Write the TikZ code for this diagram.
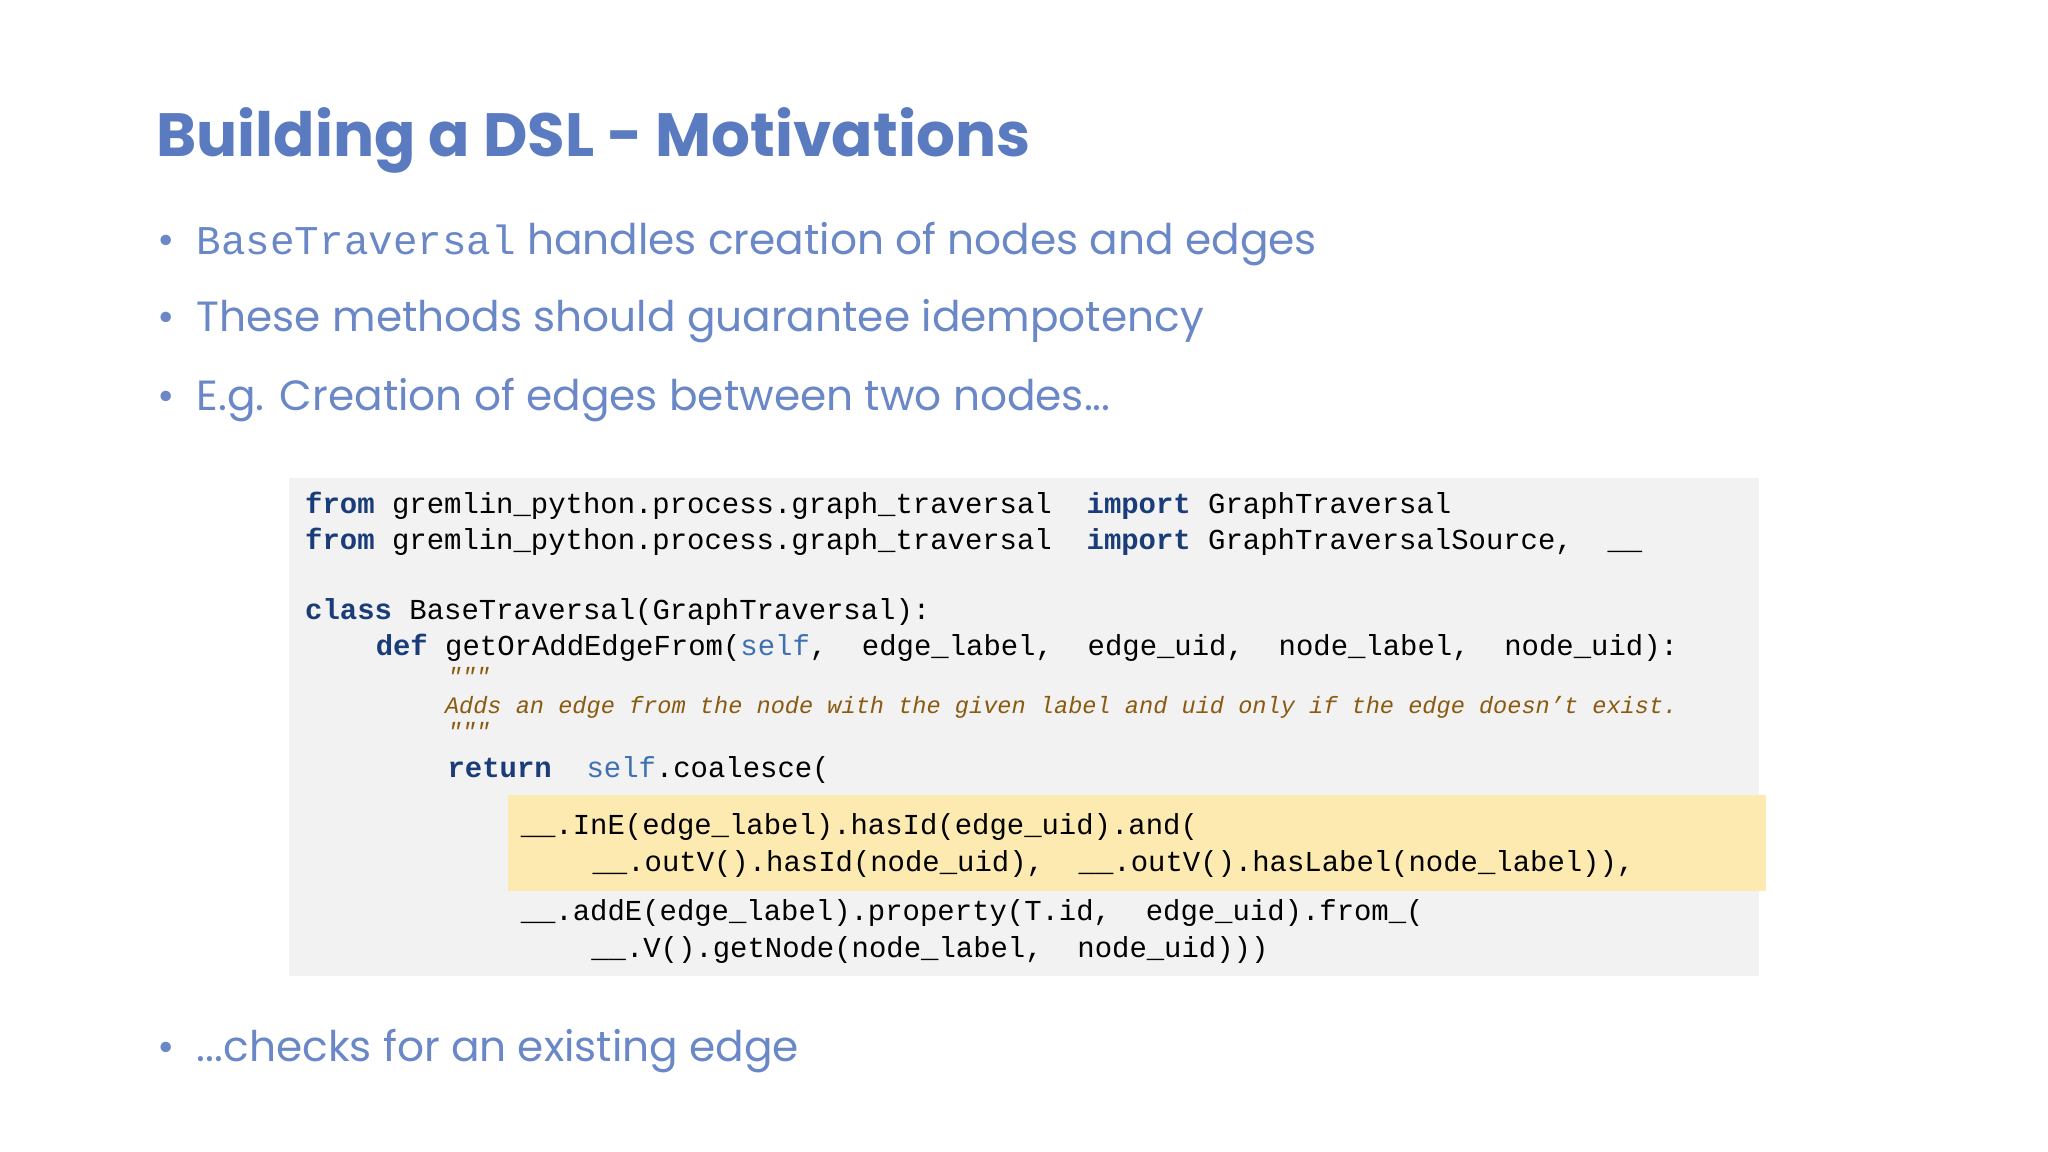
\documentclass[tikz,border=0pt]{standalone}
\usepackage{fontspec}
\setmainfont{Poppins}
\setmonofont{Liberation Mono}
\usetikzlibrary{positioning}
\definecolor{titleblue}{HTML}{5B7BC0}
\definecolor{bulletblue}{HTML}{6A88C8}
\definecolor{kwblue}{HTML}{1A3D7A}
\definecolor{selfblue}{HTML}{3E70B2}
\definecolor{docbrown}{HTML}{8A5A10}
\definecolor{codegray}{HTML}{F2F2F2}
\definecolor{hiyellow}{HTML}{FDEAB0}
\newcommand{\kw}[1]{\textbf{\color{kwblue}#1}}
\newcommand{\slf}[1]{{\color{selfblue}#1}}
\tikzset{
  bullet/.style={anchor=base west, inner sep=0pt, text=bulletblue, font=\fontsize{9.2}{11}\selectfont},
  codeline/.style={anchor=base west, inner sep=0pt, font=\ttfamily\fontsize{6.3}{8}\selectfont},
  docline/.style={anchor=base west, inner sep=0pt, text=docbrown, font=\ttfamily\itshape\fontsize{5.14}{6}\selectfont}
}
\begin{document}
\begin{tikzpicture}[x=0.01cm, y=-0.01cm]
  \useasboundingbox[fill=white] (0,0) rectangle (1568,882);
  % title and bullets
  \node[anchor=base west, inner sep=0pt, text=titleblue, font=\fontsize{13.3}{16}\bfseries\selectfont] (title) at (119,120) {Building a DSL - Motivations};
  \node[bullet] (b1) at (120,195) {•};
  \node[bullet] (t1) at (150,195) {{\ttfamily\fontsize{8.9}{11}\selectfont BaseTraversal} handles creation of nodes and edges};
  \node[bullet] (b2) at (120,254) {•};
  \node[bullet] (t2) at (150,254) {These methods should guarantee idempotency};
  \node[bullet] (b3) at (120,314) {•};
  \node[bullet] (t3) at (150,314) {E.g. Creation of edges between two nodes...};
  \node[bullet] (b4) at (120,813) {•};
  \node[bullet] (t4) at (150,813) {...checks for an existing edge};
  % code box
  \fill[codegray] (221,366) rectangle (1347,747);
  \fill[hiyellow] (389,609) rectangle (1352,682);
  \node[codeline] (c1) at (233,393) {\kw{from} gremlin\_python.process.graph\_traversal\ \ \kw{import} GraphTraversal};
  \node[codeline] (c2) at (233,421) {\kw{from} gremlin\_python.process.graph\_traversal\ \ \kw{import} GraphTraversalSource,\ \ \_\_};
  \node[codeline] (c3) at (233,474) {\kw{class} BaseTraversal(GraphTraversal):};
  \node[codeline] (c4) at (287,502) {\kw{def} getOrAddEdgeFrom(\slf{self},\ \ edge\_label,\ \ edge\_uid,\ \ node\_label,\ \ node\_uid):};
  \node[docline] (d1) at (342,524) {"""};
  \node[docline] (d2) at (340,546) {Adds an edge from the node with the given label and uid only if the edge doesn’t exist.};
  \node[docline] (d3) at (342,566) {"""};
  \node[codeline] (c5) at (342,595) {\kw{return}\ \ \slf{self}.coalesce(};
  \node[codeline] (c6) at (398,639) {\_\_.InE(edge\_label).hasId(edge\_uid).and(};
  \node[codeline] (c7) at (453,667) {\_\_.outV().hasId(node\_uid),\ \ \_\_.outV().hasLabel(node\_label)),};
  \node[codeline] (c8) at (398,705) {\_\_.addE(edge\_label).property(T.id,\ \ edge\_uid).from\_(};
  \node[codeline] (c9) at (452,733) {\_\_.V().getNode(node\_label,\ \ node\_uid)))};
\end{tikzpicture}
\end{document}
